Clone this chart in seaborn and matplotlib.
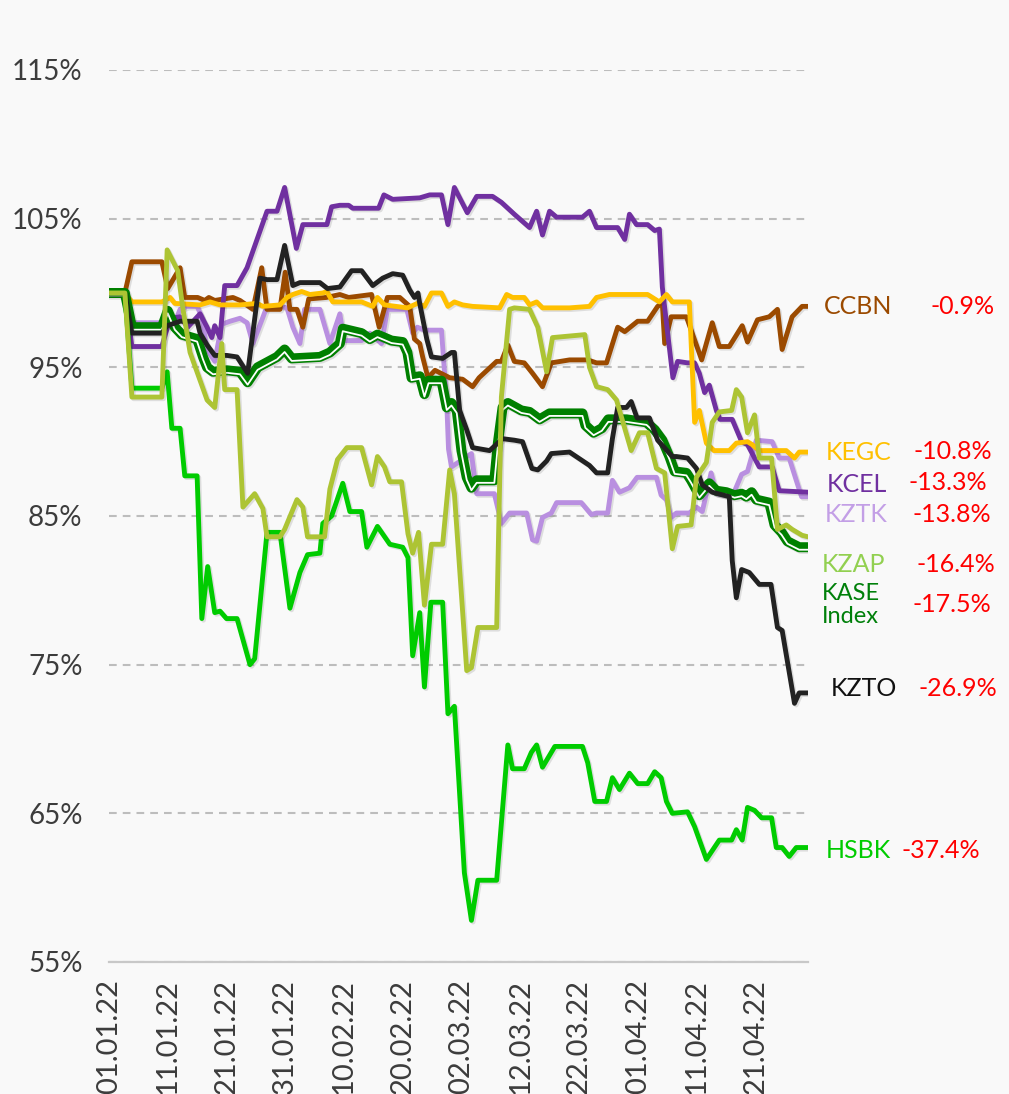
import pandas as pd
import matplotlib
matplotlib.use("Agg")
import matplotlib.pyplot as plt
import matplotlib.patheffects as pe
import matplotlib.dates as mdates
import matplotlib.ticker as mticker
import seaborn as sns

START = pd.Timestamp("2022-01-01")

# ---- data: day offsets from 01.01.22 and index values (% of 01.01.22) ----
ccbn_days = [0, 2.7, 3.9, 9, 10, 12.1, 12.9, 15.1, 16.3, 17, 18, 21.1, 22.3, 24.5, 26, 26.9, 29.1, 30, 30.8, 32,
             33, 34, 37, 39.3, 40.8, 44.7, 46, 47.4, 49.5, 51.2, 52, 52.9, 53.4, 54.3, 55.5, 58, 60.2, 61.9, 63, 66,
             66.8, 67.9, 69, 70.7, 72.1, 73.8, 75.3, 78.4, 81.5, 83, 84.7, 86.6, 87.8, 90, 91.7, 93.4, 94.2, 94.6,
             95.7, 98.3, 100.9, 102.7, 103.9, 105.6, 107.8, 108.7, 110.4, 112.4, 113.8, 114.6, 116.3, 118, 119]
ccbn_vals = [100, 100, 102.1, 102.1, 100.3, 101.7, 99.7, 99.7, 99.5, 99.7, 99.5, 99.7, 99.5, 98.9, 101.7, 98.9,
             98.9, 101.4, 98.9, 98.9, 97.7, 99.6, 99.7, 99.9, 99.7, 99.9, 97.7, 99.7, 99.7, 99.1, 96.9, 96.6, 95.7,
             94.3, 94.8, 94.3, 94.2, 93.7, 94.3, 95.4, 95.4, 96.5, 95.4, 95.3, 94.6, 93.7, 95.3, 95.5, 95.5, 95.3,
             95.3, 97.7, 97.4, 98.1, 98.1, 99.1, 99.3, 96.6, 98.4, 98.4, 95.5, 98.0, 96.4, 96.4, 97.8, 96.7, 98.2,
             98.4, 98.9, 96.2, 98.4, 99.1, 99.1]

kegc_days = [0, 2.7, 3.9, 9, 10.4, 11.2, 15.5, 17.2, 18.9, 22.3, 25.2, 26.2, 29.1, 30.3, 31.3, 32.8, 34.2, 36.4,
             37.1, 38.1, 39.3, 43, 44.9, 45.7, 46.9, 50.8, 52.5, 53.7, 54.9, 56.6, 57.7, 58.8, 60.2, 61.9, 66.5,
             67.7, 68.7, 70.7, 71.6, 72.8, 73.8, 78.4, 81.8, 83, 85.2, 91.7, 93.7, 94.9, 95.9, 98.8, 99.7, 100.5,
             101.7, 103, 105.6, 106.8, 108.7, 109.5, 110.7, 115.3, 116.7, 117.5, 119]
kegc_vals = [100, 100, 99.4, 99.4, 99.7, 99.3, 99.2, 99.4, 99.2, 99.2, 99.3, 99.1, 99.2, 99.7, 99.9, 100.1, 99.9,
             100, 100.1, 99.4, 99.4, 99.4, 99.1, 99.7, 99.2, 99.0, 99.3, 99.1, 100, 100, 99.1, 99.4, 99.2, 99.1,
             99.0, 99.9, 99.7, 99.7, 99.2, 99.4, 99.0, 99.0, 99.1, 99.7, 99.9, 99.9, 99.4, 99.9, 99.4, 99.4, 91.3,
             92.1, 89.9, 89.4, 89.4, 89.9, 90.0, 89.8, 89.4, 89.4, 88.9, 89.3, 89.3]

kcel_days = [0, 2.7, 3.9, 9, 10.4, 12.1, 13.4, 15.5, 16.7, 17.5, 18, 18.9, 19.7, 21.8, 23.5, 25.2, 26.9, 28.6,
             29.9, 31.9, 33, 37.1, 37.9, 39.3, 40.8, 41.5, 45.9, 46.8, 48.3, 52.9, 54.6, 56.6, 57.7, 58.8, 59.7, 61,
             62.6, 65.3, 66.8, 69, 71.6, 72.8, 73.8, 75, 76.2, 80.6, 81.8, 83, 86.6, 87.8, 88.6, 89.8, 91.7, 92.9,
             93.7, 94.2, 94.9, 96, 96.8, 98.5, 99.7, 100.5, 101.4, 102.2, 103.4, 104, 106.1, 107.7, 108.7, 110.7,
             112.9, 114.1, 119]
kcel_vals = [100, 100, 96.4, 96.4, 98.3, 98.4, 97.7, 98.6, 97.7, 97.0, 97.8, 97.0, 100.5, 100.5, 101.7, 103.6,
             105.5, 105.5, 107.1, 103.0, 104.6, 104.6, 105.8, 105.9, 105.9, 105.7, 105.7, 106.6, 106.3, 106.4,
             106.6, 106.6, 104.6, 107.1, 106.4, 105.4, 106.5, 106.5, 106.1, 105.3, 104.4, 105.5, 103.9, 105.5,
             105.1, 105.1, 105.5, 104.4, 104.4, 103.6, 105.3, 104.6, 104.6, 104.2, 104.3, 100.4, 98.0, 94.3, 95.4,
             95.3, 95.3, 94.6, 93.3, 93.8, 92.1, 91.5, 91.5, 90.0, 89.8, 88.3, 88.3, 86.7, 86.6]

kztk_days = [0, 2.7, 3.9, 9, 10.9, 12.1, 13.3, 15, 15.8, 16.7, 18, 19.2, 20.6, 22.3, 23.5, 24.5, 26.9, 29.1, 30.3,
             31.3, 32.5, 33.3, 35.9, 37.6, 39.3, 40, 43, 44.4, 46.4, 47.4, 50.7, 51.7, 52.5, 53.7, 56.6, 57.5, 57.8,
             58.3, 61.7, 62.6, 65.6, 66.8, 68.2, 71.1, 72.1, 72.8, 73.8, 75.3, 76.2, 80.4, 82.1, 83, 84.9, 85.7,
             86.9, 88.6, 89.9, 93.2, 94, 94.9, 95.7, 96.6, 98.8, 100, 101, 102.5, 103.4, 106.1, 107.7, 108.7, 110.2,
             112.9, 114.1, 115.8, 117, 117.9, 119]
kztk_vals = [100, 100, 98.0, 98.0, 97.7, 98.9, 99.1, 99.1, 98.4, 96.2, 95.4, 97.9, 98.1, 98.3, 98.0, 96.6, 99.1,
             99.1, 99.0, 97.7, 96.6, 98.9, 98.9, 96.6, 98.6, 96.8, 96.8, 97.3, 96.6, 98.9, 98.9, 97.3, 97.7, 97.5,
             97.5, 92.6, 89.5, 88.3, 89.2, 86.5, 86.5, 84.5, 85.2, 85.2, 83.4, 83.3, 84.9, 85.2, 85.9, 85.9, 85.1,
             85.2, 85.2, 87.4, 86.6, 86.9, 87.6, 87.6, 86.4, 86.1, 84.9, 85.2, 85.2, 85.6, 85.3, 87.9, 86.5, 86.3,
             87.8, 88.0, 90.1, 90.0, 88.9, 88.9, 87.4, 86.3, 86.3]

kzap_days = [0, 2.7, 3.9, 9, 9.9, 11.7, 12.6, 13.8, 16.7, 18, 19.2, 19.7, 21.8, 22.8, 24.8, 26.2, 26.9, 29.1,
             29.9, 32, 33, 33.8, 36.7, 37.6, 38.9, 40.5, 43, 44.7, 45.7, 46.9, 47.8, 49.8, 50.9, 51.7, 52.7, 53.7,
             54.9, 56.8, 58, 58.8, 60.9, 61.7, 62.8, 66, 66.8, 68.2, 69, 71.6, 73, 74.5, 75.5, 81, 81.8, 83, 84.9,
             86.4, 88.9, 90.3, 91.7, 93.2, 94.6, 95.9, 96.8, 99.1, 100, 101.7, 102.7, 103.9, 106, 106.8, 107.7,
             108.7, 109.9, 110.7, 112.8, 113.8, 115.3, 116.3, 118, 119]
kzap_vals = [100, 100, 93.0, 93.0, 102.9, 101.5, 98.9, 96.0, 92.8, 92.3, 96.6, 93.5, 93.5, 85.6, 86.5, 85.5, 83.6,
             83.6, 84.1, 86.1, 85.6, 83.6, 83.6, 86.8, 88.8, 89.6, 89.6, 87.1, 89.0, 88.3, 87.3, 87.3, 83.8, 82.5,
             83.9, 79.0, 83.1, 83.1, 88.1, 86.5, 74.6, 74.8, 77.5, 77.5, 93.0, 98.9, 99.0, 98.9, 97.7, 94.7, 97.0,
             97.2, 95.0, 93.7, 93.5, 92.8, 89.4, 90.6, 90.6, 88.2, 87.9, 82.8, 84.3, 84.4, 87.6, 88.6, 91.3, 92.0,
             92.1, 93.5, 93.0, 90.6, 91.8, 88.9, 88.9, 84.1, 84.4, 84.1, 83.7, 83.6]

kase_days = [0, 2.7, 3.9, 9, 10, 11.2, 12.4, 15, 16, 16.7, 17.7, 20.1, 22.3, 23.6, 25.3, 28.6, 29.9, 31.1, 35.9,
             37.6, 39.3, 39.8, 43, 44.4, 45.7, 46.9, 48.1, 50, 50.8, 51.5, 52.9, 53.7, 54.4, 56.6, 57.5, 58.3, 59.2,
             60, 60.9, 61.7, 62.6, 65.6, 66.2, 67, 67.9, 70.2, 71.6, 73.3, 75, 80.6, 81.1, 82.5, 83.9, 85, 88.1,
             91.5, 92.9, 94.2, 95.4, 96.3, 98.3, 99.1, 100.5, 102.2, 103.4, 105.1, 106.5, 107.7, 108.5, 109.4,
             110.2, 112.4, 113.3, 114.5, 115.5, 117.5, 119]
kase_vals = [100, 100, 97.7, 97.7, 98.8, 97.7, 97.2, 96.9, 95.7, 95.0, 94.7, 94.8, 94.7, 94.0, 95.0, 95.7, 96.2,
             95.6, 95.7, 96.0, 96.6, 97.6, 97.3, 96.9, 97.2, 97.0, 96.8, 96.7, 96.0, 94.3, 94.4, 93.2, 94.1, 94.1,
             92.3, 92.6, 92.1, 89.4, 87.6, 86.9, 87.4, 87.4, 89.9, 92.3, 92.6, 92.1, 92.0, 91.5, 91.9, 91.9, 91.1,
             90.6, 90.9, 91.5, 91.5, 91.3, 90.8, 90.1, 89.0, 88.0, 87.9, 87.4, 86.4, 87.2, 86.7, 86.6, 86.4, 86.5,
             86.3, 86.6, 86.1, 85.9, 84.4, 83.9, 83.3, 82.9, 82.9]

kzto_days = [0, 2.7, 3.9, 9, 9.9, 12.1, 15, 15.5, 16.7, 18, 20.1, 21.8, 23.6, 25.7, 26.9, 28.6, 29.9, 31.3, 32.5,
             35.9, 37.2, 39.3, 41.3, 43, 44.9, 46.6, 48.3, 50, 51.2, 52, 52.6, 52.9, 54.1, 54.9, 56.8, 58.3, 58.8,
             59.7, 60.9, 61.9, 64.8, 67, 69, 70.4, 72, 73, 74.5, 75.3, 78.4, 81.8, 83, 84.9, 85.7, 86.6, 88.1, 88.9,
             89.9, 92, 93.4, 95.9, 96.6, 98.5, 100, 101, 102.7, 105.6, 106.1, 106.8, 107.7, 109, 110.7, 112.7,
             113.8, 114.6, 116.7, 117.5, 119]
kzto_vals = [100, 100, 97.3, 97.3, 97.8, 98.1, 98.1, 97.3, 96.5, 95.8, 95.8, 95.7, 94.6, 101.0, 100.9, 100.9,
             103.2, 100.5, 100.7, 100.7, 100.3, 100.4, 101.5, 101.5, 100.5, 101.0, 101.3, 101.2, 100.2, 99.7, 100.0,
             99.3, 96.9, 95.7, 95.6, 96.0, 96.0, 92.1, 90.8, 89.6, 89.4, 90.2, 90.1, 90.0, 88.2, 88.1, 88.7, 89.2,
             89.3, 88.4, 87.9, 87.9, 90.2, 92.3, 92.3, 92.7, 91.6, 91.6, 90.1, 89.0, 89.0, 88.9, 88.2, 87.1, 86.6,
             86.3, 82.0, 79.5, 81.4, 81.2, 80.4, 80.4, 77.5, 77.3, 72.4, 73.1, 73.1]

hsbk_days = [0, 2.7, 3.9, 9, 9.9, 10.7, 12.1, 12.9, 15, 15.8, 16.8, 18, 18.9, 20, 21.8, 24, 24.8, 26.9, 29.1,
             30.8, 32.5, 33.8, 35.9, 36.4, 37.9, 39.8, 41, 43, 43.9, 45.7, 47.8, 50, 50.9, 51.7, 52.9, 53.7, 54.8,
             56.8, 57.7, 58.8, 60.5, 61.7, 62.8, 66, 67.9, 68.7, 70.7, 71.9, 72.8, 73.8, 75.9, 80.6, 81.5, 82.7,
             84.7, 85.7, 86.9, 88.6, 90, 91.7, 92.9, 94, 94.9, 95.9, 98.5, 99.7, 101.7, 103.9, 106, 106.8, 107.8,
             108.7, 109.9, 111.1, 112.8, 113.6, 114.6, 115.8, 117, 119]
hsbk_vals = [100, 100, 93.6, 93.6, 94.7, 90.9, 90.9, 87.7, 87.7, 78.1, 81.6, 78.5, 78.6, 78.1, 78.1, 75.0, 75.4,
             83.9, 83.9, 78.8, 81.2, 82.4, 82.5, 84.5, 85.0, 87.2, 85.3, 85.3, 82.9, 84.3, 83.1, 82.9, 82.2, 75.6,
             78.5, 73.5, 79.2, 79.2, 71.7, 72.2, 61.0, 57.8, 60.5, 60.5, 69.6, 68.0, 68.0, 69.1, 69.6, 68.1, 69.5,
             69.5, 68.4, 65.8, 65.8, 67.4, 66.6, 67.7, 67.0, 67.0, 67.8, 67.4, 65.8, 65.0, 65.1, 64.1, 61.9, 63.2,
             63.2, 63.9, 63.2, 65.4, 65.2, 64.7, 64.7, 62.7, 62.7, 62.1, 62.7, 62.7]

label_names = ["CCBN", "KEGC", "KCEL", "KZTK", "KZAP", "KASE\nIndex", "KZTO", "HSBK"]
label_changes = ["-0.9%", "-10.8%", "-13.3%", "-13.8%", "-16.4%", "-17.5%", "-26.9%", "-37.4%"]

# ---- style ----
BG = "#f9f9f9"
C_CCBN, C_KEGC, C_KCEL, C_KZTK = "#9b4a00", "#ffc000", "#7030a0", "#b98fe0"
C_KZAP, C_KASE, C_KZTO, C_HSBK = "#adc434", "#008000", "#222222", "#00cc00"
label_colors = [C_CCBN, C_KEGC, C_KCEL, "#c39fe6", "#92d050", "#00800a", "#111111", C_HSBK]

sns.set_theme(style="white")
plt.rcParams["font.family"] = ["Lato", "DejaVu Sans"]

fig = plt.figure(figsize=(10.09, 10.94), dpi=100, facecolor=BG)
W, H = 1009, 1094
ax = fig.add_axes([109 / W, (H - 962) / H, (808 - 109) / W, (962 - 70) / H])
ax.set_facecolor(BG)

shadow = [pe.SimpleLineShadow(offset=(1.2, -1.2), shadow_color="k", alpha=0.12), pe.Normal()]

order = [
    (kztk_days, kztk_vals, C_KZTK, 2),
    (ccbn_days, ccbn_vals, C_CCBN, 3),
    (kcel_days, kcel_vals, C_KCEL, 4),
    (kegc_days, kegc_vals, C_KEGC, 5),
    (kzto_days, kzto_vals, C_KZTO, 7),
    (hsbk_days, hsbk_vals, C_HSBK, 8),
    (kzap_days, kzap_vals, C_KZAP, 9),
]

def frame(days, vals):
    return pd.DataFrame({"date": START + pd.to_timedelta(days, unit="D"), "value": vals})

for days, vals, color, z in order:
    sns.lineplot(data=frame(days, vals), x="date", y="value", ax=ax, color=color, lw=3.5,
                 estimator=None, sort=False, zorder=z, solid_joinstyle="round",
                 solid_capstyle="round", path_effects=shadow)

# KASE Index: thick line with a white inner stripe
sns.lineplot(data=frame(kase_days, kase_vals), x="date", y="value", ax=ax, color=C_KASE, lw=7.2,
             estimator=None, sort=False, zorder=6, solid_joinstyle="round", solid_capstyle="round",
             path_effects=[pe.SimpleLineShadow(offset=(1.2, -1.2), shadow_color="k", alpha=0.12),
                           pe.Normal(),
                           pe.Stroke(offset=(0, -1.8), linewidth=1.3, foreground="white")])

# ---- axes ----
ax.set_xlim(START, START + pd.Timedelta(days=119))
ax.set_ylim(55, 115)
ax.set_yticks(range(55, 116, 10))
ax.yaxis.set_major_formatter(mticker.FuncFormatter(lambda v, p: f"{v:.0f}%"))
ax.set_xticks(pd.date_range(START, periods=12, freq="10D"))
ax.xaxis.set_major_formatter(mdates.DateFormatter("%d.%m.%y"))
ax.set_xlabel("")
ax.set_ylabel("")

ax.grid(axis="y", color="#bdbdbd", lw=1.5, linestyle=(0, (3.7, 2.9)))
ax.grid(axis="x", visible=False)
ax.set_axisbelow(True)
for s in ["left", "right", "top"]:
    ax.spines[s].set_visible(False)
ax.spines["bottom"].set_color("#c8c8c8")
ax.spines["bottom"].set_linewidth(1.6)

ax.tick_params(axis="y", length=0, pad=19, labelsize=20, labelcolor="#3c3c3c")
ax.tick_params(axis="x", length=6, width=1.2, color="#c8c8c8", pad=6, labelsize=21,
               labelcolor="#3c3c3c", rotation=90)

# ---- right-side labels ----
name_pos = [(824, 307), (826, 453), (827, 485), (825, 515), (822, 565), (822, 605), (831, 689), (826, 851)]
pct_pos = [(995, 307), (992, 451), (987, 483), (991, 515), (995, 565), (991, 604), (997, 689), (980, 851)]
for name, col, (x, y) in zip(label_names, label_colors, name_pos):
    fig.text(x / W, 1 - y / H, name, color=col, fontsize=18 if "\n" not in name else 17,
             ha="left", va="center", linespacing=1.1)
for txt, (x, y) in zip(label_changes, pct_pos):
    fig.text(x / W, 1 - y / H, txt, color="#ff0000", fontsize=18, ha="right", va="center")

fig.savefig("out.png", dpi=100, facecolor=BG)
